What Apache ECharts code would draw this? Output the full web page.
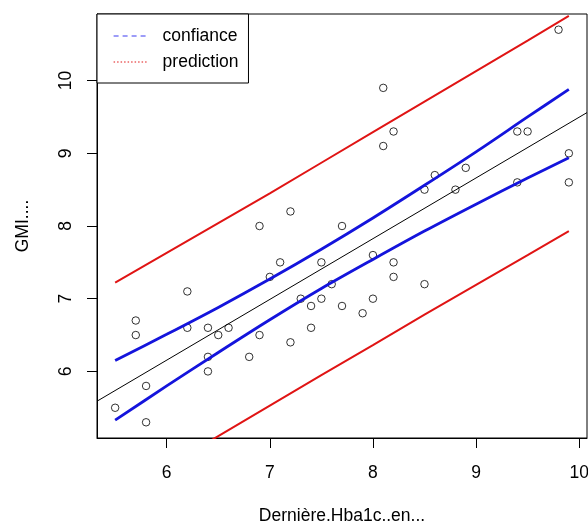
<!DOCTYPE html>
<html>
<head>
<meta charset="utf-8">
<script src="https://cdn.jsdelivr.net/npm/echarts@6/dist/echarts.min.js"></script>
<style>
html,body{margin:0;padding:0;background:#fff;}
#c{width:588px;height:525px;}
</style>
</head>
<body>
<div id="c"></div>
<script>
// Observed points: Dernière HbA1c (x) vs GMI (y)
const hba1c = [5.5,5.7,5.7,5.8,5.8,6.2,6.2,6.4,6.4,6.4,6.5,6.6,6.8,6.9,6.9,7.0,7.1,7.2,7.2,7.3,7.4,7.4,7.5,7.5,7.6,7.7,7.7,7.9,8.0,8.0,8.1,8.1,8.2,8.2,8.2,8.5,8.5,8.6,8.8,8.9,9.4,9.5,9.4,9.8,9.9,9.9];
const gmi   = [5.5,6.7,6.5,5.8,5.3,7.1,6.6,6.6,6.2,6.0,6.5,6.6,6.2,8.0,6.5,7.3,7.5,8.2,6.4,7.0,6.9,6.6,7.5,7.0,7.2,8.0,6.9,6.8,7.6,7.0,9.9,9.1,9.3,7.5,7.3,8.5,7.2,8.7,8.5,8.8,9.3,9.3,8.6,10.7,9.0,8.6];

// Regression line (read at the plot edges)
const fitX = [5.324, 10.076];
const fitY = [5.59, 9.56];

// Confidence and prediction bands
const bandX     = [5.5, 6.0, 6.5, 7.0, 7.5, 8.0, 8.5, 9.0, 9.5, 9.9];
const confUpper = [6.15, 6.51, 6.88, 7.27, 7.68, 8.11, 8.56, 9.02, 9.50, 9.88];
const confLower = [5.33, 5.80, 6.26, 6.71, 7.14, 7.54, 7.93, 8.30, 8.66, 8.94];
const predUpper = [7.22, 7.63, 8.04, 8.45, 8.87, 9.29, 9.71, 10.13, 10.55, 10.89];
const predLower = [4.26, 4.69, 5.11, 5.53, 5.95, 6.36, 6.78, 7.19, 7.60, 7.93];

// Legend entries
const legendNames = ['confiance', 'prediction'];

// Axis ticks
const xTicks = [6, 7, 8, 9, 10];
const yTicks = [6, 7, 8, 9, 10];

const FONT = "'Liberation Sans', Arial, sans-serif";
const FS = 17.5;
const zip = (a, b) => a.map((v, i) => [v, b[i]]);
const BLUE = '#1414dc';
const RED = '#e01414';

const chart = echarts.init(document.getElementById('c'), null, {renderer: 'canvas'});
chart.setOption({
  animation: false,
  backgroundColor: '#fff',
  textStyle: {fontFamily: FONT},
  grid: {left: 97, right: 1, top: 14, bottom: 87, show: true, borderColor: '#000', borderWidth: 1,
         backgroundColor: 'transparent', outerBoundsMode: 'none', containLabel: false},
  legend: {
    show: true,
    orient: 'vertical', left: 97, top: 14,
    padding: [13, 10, 12, 16],
    itemWidth: 34, itemHeight: 14, itemGap: 8,
    backgroundColor: '#fff', borderColor: '#000', borderWidth: 1,
    textStyle: {fontSize: FS, color: '#000', fontFamily: FONT, padding: [0, 0, 0, 10]},
    itemStyle: {color: 'rgba(0,0,0,0)', borderWidth: 0},
    data: [
      {name: legendNames[0], lineStyle: {color: '#3a3af2', width: 1.2, type: [5, 4]}, itemStyle: {color: 'rgba(0,0,0,0)', borderWidth: 0}},
      {name: legendNames[1], lineStyle: {color: RED, width: 1, type: [1.5, 2]}, itemStyle: {color: 'rgba(0,0,0,0)', borderWidth: 0}}
    ]
  },
  xAxis: {
    type: 'value', min: 5.324, max: 10.076,
    name: 'Dernière.Hba1c..en...', nameLocation: 'middle', nameGap: 69,
    nameTextStyle: {fontSize: FS, color: '#000', fontFamily: FONT},
    axisLine: {show: true, lineStyle: {color: '#000', width: 1}},
    axisTick: {show: true, length: 10, lineStyle: {color: '#000'}, customValues: xTicks},
    axisLabel: {fontSize: FS, color: '#000', margin: 26, customValues: xTicks, fontFamily: FONT},
    splitLine: {show: false}
  },
  yAxis: {
    type: 'value', min: 5.084, max: 10.916,
    name: 'GMI....', nameLocation: 'middle', nameGap: 65, nameRotate: 90,
    nameTextStyle: {fontSize: FS, color: '#000', fontFamily: FONT},
    axisLine: {show: true, lineStyle: {color: '#000', width: 1}},
    axisTick: {show: true, length: 10, lineStyle: {color: '#000'}, customValues: yTicks},
    axisLabel: {fontSize: FS, color: '#000', margin: 22, rotate: 90, customValues: yTicks, fontFamily: FONT},
    splitLine: {show: false}
  },
  series: [
    {
      type: 'scatter', name: 'points', data: zip(hba1c, gmi), z: 1,
      symbol: 'circle', symbolSize: 7.5,
      itemStyle: {color: 'rgba(0,0,0,0)', borderColor: '#000', borderWidth: 1},
      silent: true
    },
    {
      type: 'line', name: 'fit', data: zip(fitX, fitY), z: 2,
      symbol: 'none', clip: true,
      lineStyle: {color: '#000', width: 1}
    },
    {
      type: 'line', name: legendNames[0], data: zip(bandX, confUpper), z: 3, color: BLUE,
      symbol: 'none', clip: true, smooth: 0.3,
      lineStyle: {color: BLUE, width: 2.8},
      itemStyle: {color: BLUE}
    },
    {
      type: 'line', name: legendNames[0], data: zip(bandX, confLower), z: 3, color: BLUE,
      symbol: 'none', clip: true, smooth: 0.3,
      lineStyle: {color: BLUE, width: 2.8},
      itemStyle: {color: BLUE}
    },
    {
      type: 'line', name: legendNames[1], data: zip(bandX, predUpper), z: 3, color: RED,
      symbol: 'none', clip: true,
      lineStyle: {color: RED, width: 2},
      itemStyle: {color: RED}
    },
    {
      type: 'line', name: legendNames[1], data: zip(bandX, predLower), z: 3, color: RED,
      symbol: 'none', clip: true,
      lineStyle: {color: RED, width: 2},
      itemStyle: {color: RED}
    }
  ]
});
</script>
</body>
</html>
